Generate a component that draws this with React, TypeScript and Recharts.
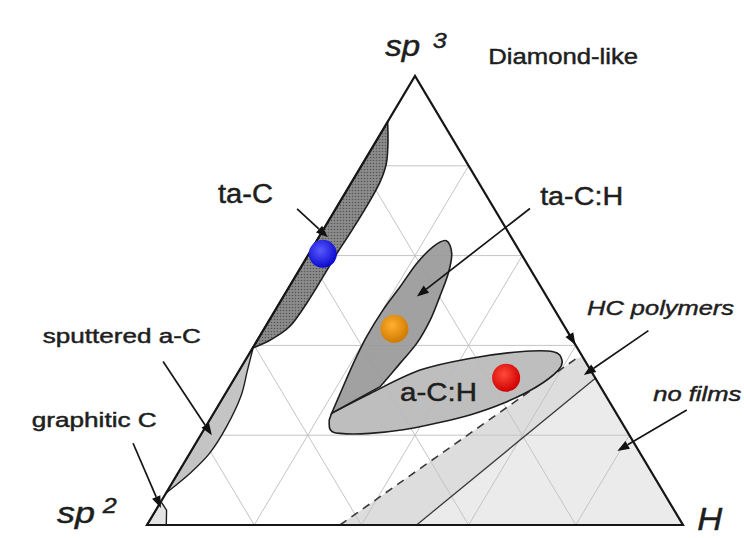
import { ScatterChart, Scatter, XAxis, YAxis } from 'recharts';

const CHART_W = 744;
const CHART_H = 538;

// where the triangle corners sit in the picture (sp2 left, H right, sp3 top)
const LEFT_PX = 147;
const BASE_PX = 536;
const BOTTOM_PX = 525;
const HEIGHT_PX = 449;

// every composition is [sp3 %, H %]; sp2 is what is left
const CORNERS = [[0, 0], [0, 100], [100, 0]];
const GRID_TICKS = [20, 40, 60, 80];

const TA_C = [
  [89.8, 0], [85.1, 2.4], [80.5, 4.4], [76.2, 5.3], [70.9, 5.5], [65, 5.4],
  [60.6, 5.2], [55.2, 5.2], [49.4, 5.1], [44.2, 4.5], [41.2, 2.4], [39.4, 0],
];
const SPUTTERED = [[39.7, 0], [34.5, 1.5], [28.6, 3.2], [21.9, 3.9], [16, 3.7], [11.6, 2.3], [7.1, 0]];
const GRAPHITIC = [[0, 0], [5.2, 0], [3.3, 2], [0, 3.6]];
const TA_CH = [
  [24.9, 22], [29.3, 21.4], [36, 20.5], [41.9, 20], [47.9, 20.1], [53.1, 20.7], [58.3, 21.2],
  [62, 22.4], [63.3, 24.2], [60.5, 26.6], [56, 28.2], [50.8, 29.2], [45.7, 30], [40.5, 30.1],
  [36, 29.2], [30.8, 28.1],
];
const A_CH = [
  [24.9, 22], [29.3, 27], [34.5, 33.7], [37.1, 41.7], [38.6, 50.3], [38.6, 56.5], [36.8, 59],
  [34.5, 59.5], [30.8, 57.3], [27.1, 52.9], [24.5, 48], [22.7, 42.7], [21.2, 37.2], [20.4, 31.4],
  [20.4, 25.8], [21.2, 23.6], [23.4, 22.3],
];
const HC_BAND = [[0, 36], [37, 61.5], [37.5, 62.5], [32.7, 67.3], [0, 50.3]];
const NO_FILMS = [[0, 50.3], [32.7, 67.3], [0, 100]];
const DASHED = [[0, 36], [37, 61.5]];
const SOLID = [[0, 50.3], [32.7, 67.3]];

const DOTS = [
  { name: 'ta-C', at: [60.4, 2.6] },
  { name: 'ta-C:H', at: [43.7, 24.3] },
  { name: 'a-C:H', at: [32.8, 50.6] },
];

const ARROWS = [
  [[70.4, -7.2], [64.1, 1.7]],
  [[70.5, 36.2], [50.9, 24.9]],
  [[36.4, -15.2], [20, 2.1]],
  [[18.2, -11.7], [3.8, 0.7]],
  [[43.3, 71.9], [33.4, 64.8]],
  [[25.6, 87.9], [16.5, 79.5]],
  [[43.4, 56.6], [40.1, 59.9]],
];

const LABELS = [
  { id: 'sp3', text: 'sp', at: [104.5, -7.8] },
  { id: 'sp3sup', text: '3', at: [106.2, 0.2] },
  { id: 'diamond', text: 'Diamond-like', at: [102.7, 12.3] },
  { id: 'taC', text: 'ta-C', at: [71.7, -22.6] },
  { id: 'taCH', text: 'ta-C:H', at: [71.3, 37.7] },
  { id: 'sput', text: 'sputtered a-C', at: [40.5, -39.7] },
  { id: 'graph', text: 'graphitic C', at: [21.8, -32.4] },
  { id: 'aCH', text: 'a-C:H', at: [27.6, 33.4] },
  { id: 'hc', text: 'HC polymers', at: [46.8, 58.7] },
  { id: 'nofilms', text: 'no films', at: [27.7, 80.6] },
  { id: 'H', text: 'H', at: [-1.1, 103.2] },
  { id: 'sp2', text: 'sp', at: [0.4, -17] },
  { id: 'sp2sup', text: '2', at: [2.7, -9.6] },
];

const LABEL_STYLE: Record<string, { size: number; width: number; italic?: boolean }> = {
  sp3: { size: 29, width: 35, italic: true },
  sp3sup: { size: 22, width: 14, italic: true },
  diamond: { size: 22, width: 150 },
  taC: { size: 27, width: 55 },
  taCH: { size: 25, width: 83 },
  sput: { size: 20, width: 158 },
  graph: { size: 20, width: 125 },
  aCH: { size: 25, width: 77 },
  hc: { size: 21, width: 147, italic: true },
  nofilms: { size: 20, width: 88, italic: true },
  H: { size: 32, width: 25, italic: true },
  sp2: { size: 29, width: 38, italic: true },
  sp2sup: { size: 22, width: 14, italic: true },
};

const DOT_COLORS: Record<string, string[]> = {
  'ta-C': ['#5a5aff', '#0a0ad0'],
  'ta-C:H': ['#ffb030', '#d07a00'],
  'a-C:H': ['#ff4a3a', '#d00000'],
};

const toXY = ([sp3, h]: number[]) => ({ x: (h + sp3 / 2) / 100, y: sp3 / 100 });

const xDomain = [-LEFT_PX / BASE_PX, (CHART_W - LEFT_PX) / BASE_PX];
const yDomain = [-(CHART_H - BOTTOM_PX) / HEIGHT_PX, BOTTOM_PX / HEIGHT_PX];

const gridSegments = GRID_TICKS.flatMap((c) => [
  [[c, 0], [c, 100 - c]],
  [[0, c], [100 - c, c]],
  [[0, 100 - c], [100 - c, 0]],
]);

type P = { x: number; y: number };

const linePath = (ps: P[], closed = false) =>
  ps.map((p, i) => `${i ? 'L' : 'M'}${p.x},${p.y}`).join('') + (closed ? 'Z' : '');

// catmull-rom through the read points, closed by a straight edge
const smoothPath = (ps: P[]) => {
  const n = ps.length;
  let d = `M${ps[0].x},${ps[0].y}`;
  for (let i = 0; i < n - 1; i++) {
    const p0 = ps[Math.max(i - 1, 0)];
    const p1 = ps[i];
    const p2 = ps[i + 1];
    const p3 = ps[Math.min(i + 2, n - 1)];
    d += `C${p1.x + (p2.x - p0.x) / 6},${p1.y + (p2.y - p0.y) / 6} ${p2.x - (p3.x - p1.x) / 6},${p2.y - (p3.y - p1.y) / 6} ${p2.x},${p2.y}`;
  }
  return d + 'Z';
};

const blank = () => <g />;

const shapeSeries = (key: string, pts: number[][], draw: (ps: P[]) => any) => (
  <Scatter
    key={key}
    data={pts.map(toXY)}
    isAnimationActive={false}
    shape={blank}
    line={(p: any) => draw(p.points)}
  />
);

const drawArrow = (ps: P[]) => {
  const [a, b] = ps;
  const dx = b.x - a.x;
  const dy = b.y - a.y;
  const len = Math.hypot(dx, dy);
  const ux = dx / len;
  const uy = dy / len;
  const head = 12;
  const half = 4.5;
  const bx = b.x - ux * head;
  const by = b.y - uy * head;
  return (
    <g>
      <line x1={a.x} y1={a.y} x2={bx} y2={by} stroke="#151515" strokeWidth={1.7} />
      <polygon
        points={`${b.x},${b.y} ${bx - uy * half},${by + ux * half} ${bx + uy * half},${by - ux * half}`}
        fill="#111"
      />
    </g>
  );
};

const renderDot = (p: any) => {
  const name = p.payload?.name ?? p.name;
  const [light, dark] = DOT_COLORS[name];
  const id = `dot-${name.replace(/[^a-zA-Z]/g, '')}`;
  return (
    <g>
      <defs>
        <radialGradient id={id} cx="42%" cy="38%" r="62%">
          <stop offset="0%" stopColor={light} />
          <stop offset="100%" stopColor={dark} />
        </radialGradient>
      </defs>
      <circle cx={p.cx} cy={p.cy} r={14} fill={`url(#${id})`} />
    </g>
  );
};

const renderLabel = (p: any) => {
  const id = p.payload?.id ?? p.id;
  const text = p.payload?.text ?? p.text;
  const st = LABEL_STYLE[id];
  return (
    <text
      x={p.cx}
      y={p.cy}
      fontFamily='"Liberation Sans", Arial, sans-serif'
      fontSize={st.size}
      fontStyle={st.italic ? 'italic' : 'normal'}
      fill="#1e1e1e"
      stroke="#1e1e1e"
      strokeWidth={0.45}
      textLength={st.width}
      lengthAdjust="spacingAndGlyphs"
    >
      {text}
    </text>
  );
};

export default function App() {
  return (
    <div style={{ position: 'absolute', left: 0, top: 0, background: '#fff' }}>
      <ScatterChart width={CHART_W} height={CHART_H} margin={{ top: 0, right: 0, bottom: 0, left: 0 }}>
        <XAxis type="number" dataKey="x" domain={xDomain} allowDataOverflow hide />
        <YAxis type="number" dataKey="y" domain={yDomain} allowDataOverflow hide />

        {shapeSeries('nofilms', NO_FILMS, (ps) => <path d={linePath(ps, true)} fill="#ebebeb" />)}
        {shapeSeries('band', HC_BAND, (ps) => <path d={linePath(ps, true)} fill="#dddddd" />)}

        {gridSegments.map((seg, i) =>
          shapeSeries(`grid-${i}`, seg, (ps) => (
            <path d={linePath(ps)} stroke="#c4c4c4" strokeWidth={1} fill="none" />
          )),
        )}

        {shapeSeries('dashed', DASHED, (ps) => (
          <path d={linePath(ps)} stroke="#3a3a3a" strokeWidth={1.6} strokeDasharray="8 6" fill="none" />
        ))}
        {shapeSeries('solid', SOLID, (ps) => (
          <path d={linePath(ps)} stroke="#3a3a3a" strokeWidth={1.3} fill="none" />
        ))}

        {shapeSeries('taC', TA_C, (ps) => (
          <g>
            <defs>
              <pattern id="taCdots" width="3" height="3" patternUnits="userSpaceOnUse">
                <rect width="3" height="3" fill="#8c8c8c" />
                <circle cx="1.5" cy="1.5" r="0.8" fill="#555" />
              </pattern>
            </defs>
            <path d={smoothPath(ps)} fill="url(#taCdots)" stroke="#1e1e1e" strokeWidth={1.6} />
          </g>
        ))}
        {shapeSeries('sput', SPUTTERED, (ps) => (
          <path d={smoothPath(ps)} fill="#c4c4c4" stroke="#1e1e1e" strokeWidth={1.4} />
        ))}
        {shapeSeries('graph', GRAPHITIC, (ps) => (
          <path d={linePath(ps, true)} fill="#e4e4e4" stroke="#1e1e1e" strokeWidth={1.4} />
        ))}
        {shapeSeries('aCH', A_CH, (ps) => (
          <path d={smoothPath(ps)} fill="#b8b8b8" fillOpacity={0.92} stroke="#1e1e1e" strokeWidth={1.6} />
        ))}
        {shapeSeries('taCH', TA_CH, (ps) => (
          <path d={smoothPath(ps)} fill="#999999" fillOpacity={0.92} stroke="#1e1e1e" strokeWidth={1.6} />
        ))}

        {shapeSeries('triangle', CORNERS, (ps) => (
          <path d={linePath(ps, true)} stroke="#161616" strokeWidth={2.2} fill="none" strokeLinejoin="miter" />
        ))}

        {ARROWS.map((a, i) => shapeSeries(`arrow-${i}`, a, drawArrow))}

        <Scatter
          data={DOTS.map((d) => ({ ...toXY(d.at), name: d.name }))}
          isAnimationActive={false}
          shape={renderDot}
        />
        <Scatter
          data={LABELS.map((l) => ({ ...toXY(l.at), id: l.id, text: l.text }))}
          isAnimationActive={false}
          shape={renderLabel}
        />
      </ScatterChart>
    </div>
  );
}
